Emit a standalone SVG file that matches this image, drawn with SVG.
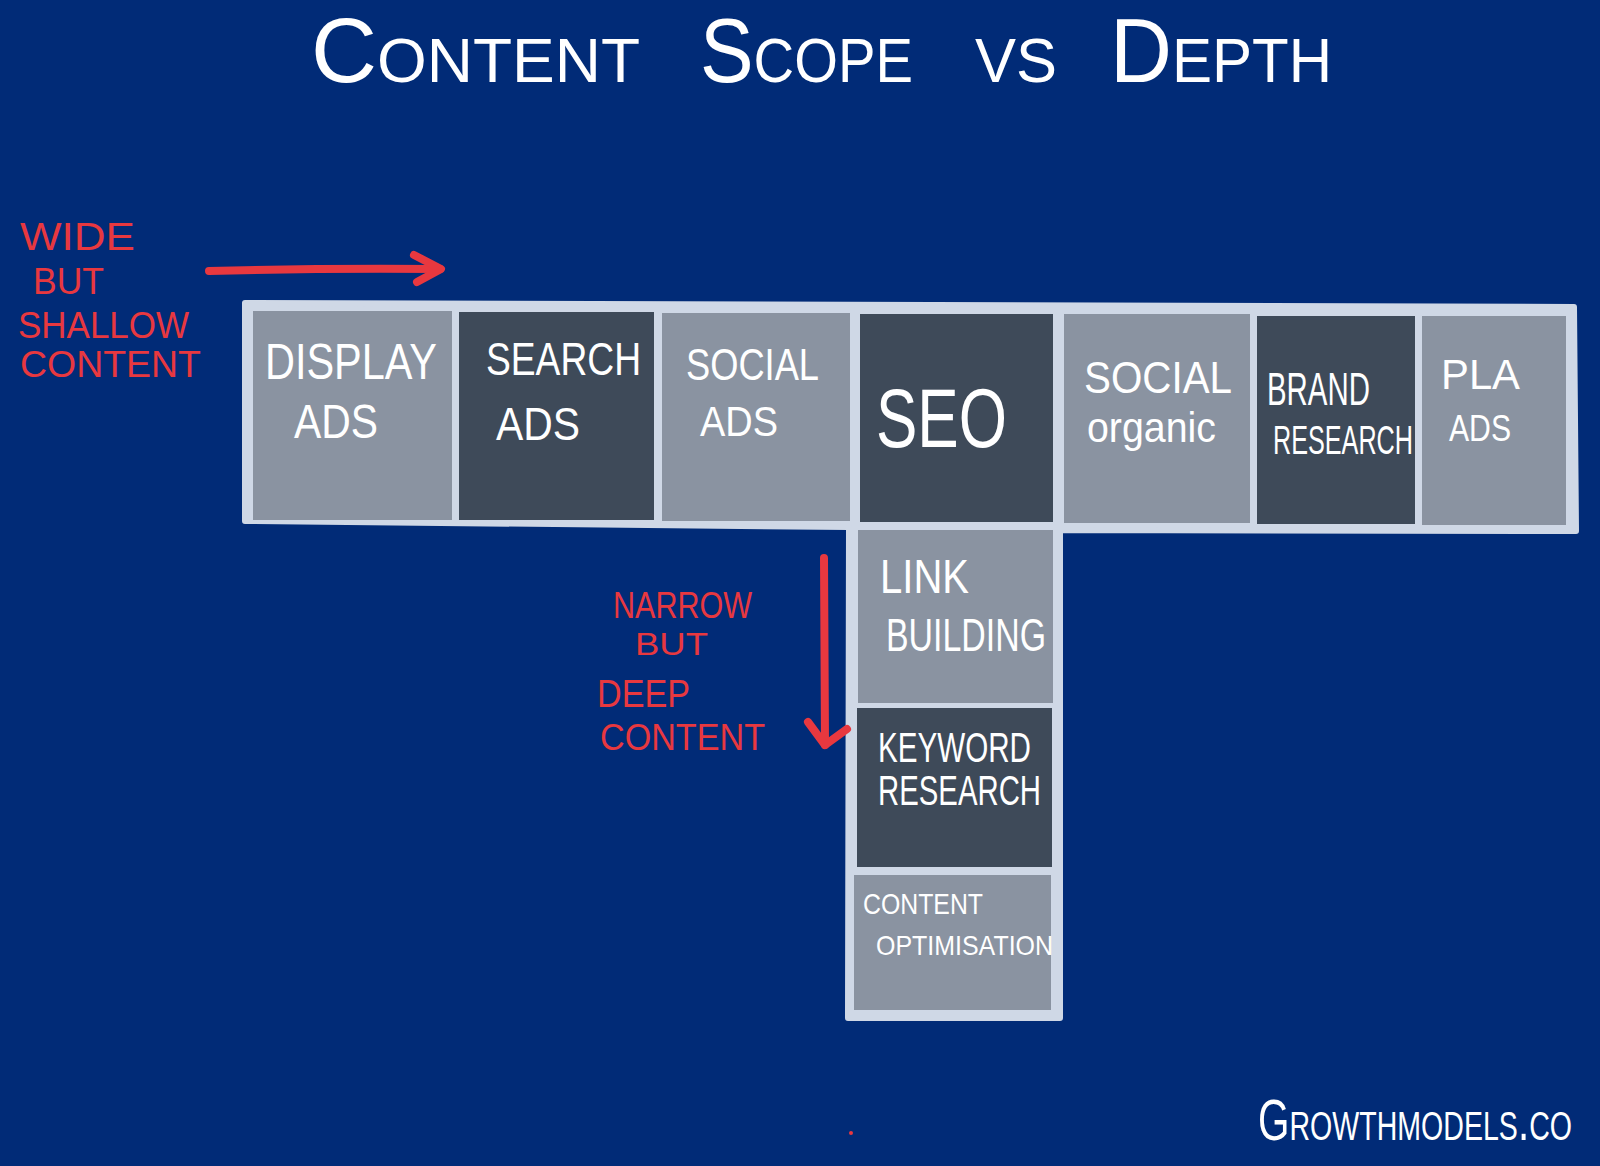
<svg xmlns="http://www.w3.org/2000/svg" width="1600" height="1166" viewBox="0 0 1600 1166">
<style>
.hand{font-family:"Liberation Sans","DejaVu Sans",sans-serif;fill:#ffffff}
.red{font-family:"Liberation Sans","DejaVu Sans",sans-serif;fill:#e8383f}
.light{fill:#8a93a1}
.dark{fill:#3e4a59}
.frame{fill:#cfd8e6;stroke:#cfd8e6;stroke-width:6;stroke-linejoin:round}
.arrow{fill:none;stroke:#e8383f;stroke-width:8;stroke-linecap:round;stroke-linejoin:round}
</style>
<rect x="0" y="0" width="1600" height="1166" fill="#012b77"/>
<g id="title">
<text class="hand" y="82" font-size="90" style="font-variant:small-caps">
<tspan x="311" textLength="329" lengthAdjust="spacingAndGlyphs">Content</tspan>
<tspan x="700" textLength="213" lengthAdjust="spacingAndGlyphs">Scope</tspan>
<tspan x="975" textLength="82" lengthAdjust="spacingAndGlyphs">vs</tspan>
<tspan x="1110" textLength="222" lengthAdjust="spacingAndGlyphs">Depth</tspan>
</text>
</g>
<g id="frame">
<polygon class="frame" points="245,303 1574,307 1576,531 1060,530 1060,1018 848,1018 849,527 245,521"/>
</g>
<g id="display-ads">
<rect class="light" x="253" y="311" width="199" height="209"/>
<text class="hand" x="265" y="379" font-size="50" textLength="172" lengthAdjust="spacingAndGlyphs">DISPLAY</text>
<text class="hand" x="294" y="438" font-size="48" textLength="84" lengthAdjust="spacingAndGlyphs">ADS</text>
</g>
<g id="search-ads">
<rect class="dark" x="459" y="312" width="195" height="208"/>
<text class="hand" x="486" y="375" font-size="46" textLength="155" lengthAdjust="spacingAndGlyphs">SEARCH</text>
<text class="hand" x="496" y="440" font-size="46" textLength="84" lengthAdjust="spacingAndGlyphs">ADS</text>
</g>
<g id="social-ads">
<rect class="light" x="662" y="313" width="188" height="208"/>
<text class="hand" x="686" y="380" font-size="44" textLength="133" lengthAdjust="spacingAndGlyphs">SOCIAL</text>
<text class="hand" x="700" y="436" font-size="42" textLength="78" lengthAdjust="spacingAndGlyphs">ADS</text>
</g>
<g id="seo">
<rect class="dark" x="860" y="314" width="193" height="208"/>
<text class="hand" x="876" y="447" font-size="84" textLength="131" lengthAdjust="spacingAndGlyphs">SEO</text>
</g>
<g id="social-organic">
<rect class="light" x="1064" y="314" width="186" height="209"/>
<text class="hand" x="1084" y="393" font-size="44" textLength="148" lengthAdjust="spacingAndGlyphs">SOCIAL</text>
<text class="hand" x="1087" y="442" font-size="42" textLength="129" lengthAdjust="spacingAndGlyphs">organic</text>
</g>
<g id="brand-research">
<rect class="dark" x="1257" y="316" width="158" height="208"/>
<text class="hand" x="1267" y="405" font-size="46" textLength="103" lengthAdjust="spacingAndGlyphs">BRAND</text>
<text class="hand" transform="translate(1273,454) scale(1,1.55)" x="0" y="0" font-size="26" textLength="140" lengthAdjust="spacingAndGlyphs">RESEARCH</text>
</g>
<g id="pla-ads">
<rect class="light" x="1422" y="316" width="144" height="209"/>
<text class="hand" x="1441" y="389" font-size="42" textLength="79" lengthAdjust="spacingAndGlyphs">PLA</text>
<text class="hand" x="1449" y="441" font-size="36" textLength="62" lengthAdjust="spacingAndGlyphs">ADS</text>
</g>
<g id="link-building">
<rect class="light" x="858" y="530" width="195" height="173"/>
<text class="hand" x="880" y="593" font-size="48" textLength="89" lengthAdjust="spacingAndGlyphs">LINK</text>
<text class="hand" x="886" y="651" font-size="46" textLength="160" lengthAdjust="spacingAndGlyphs">BUILDING</text>
</g>
<g id="keyword-research">
<rect class="dark" x="857" y="708" width="195" height="159"/>
<text class="hand" x="878" y="762" font-size="42" textLength="153" lengthAdjust="spacingAndGlyphs">KEYWORD</text>
<text class="hand" x="878" y="805" font-size="42" textLength="163" lengthAdjust="spacingAndGlyphs">RESEARCH</text>
</g>
<g id="content-optimisation">
<rect class="light" x="854" y="875" width="197" height="135"/>
<text class="hand" x="863" y="914" font-size="30" textLength="120" lengthAdjust="spacingAndGlyphs">CONTENT</text>
<text class="hand" x="876" y="955" font-size="28" textLength="177" lengthAdjust="spacingAndGlyphs">OPTIMISATION</text>
</g>
<g id="wide-label">
<text class="red" x="20" y="250" font-size="38" textLength="115" lengthAdjust="spacingAndGlyphs">WIDE</text>
<text class="red" x="33" y="294" font-size="36" textLength="71" lengthAdjust="spacingAndGlyphs">BUT</text>
<text class="red" x="18" y="338" font-size="36" textLength="171" lengthAdjust="spacingAndGlyphs">SHALLOW</text>
<text class="red" x="20" y="377" font-size="36" textLength="181" lengthAdjust="spacingAndGlyphs">CONTENT</text>
</g>
<g id="narrow-label">
<text class="red" x="613" y="618" font-size="36" textLength="139" lengthAdjust="spacingAndGlyphs">NARROW</text>
<text class="red" x="635" y="655" font-size="32" textLength="73" lengthAdjust="spacingAndGlyphs">BUT</text>
<text class="red" x="597" y="707" font-size="38" textLength="93" lengthAdjust="spacingAndGlyphs">DEEP</text>
<text class="red" x="600" y="750" font-size="36" textLength="165" lengthAdjust="spacingAndGlyphs">CONTENT</text>
</g>
<g id="connectors">
<path class="arrow" d="M209,271 Q320,268 440,269"/>
<path class="arrow" d="M414,255 L441,269 L417,282"/>
<path class="arrow" d="M824,558 L825,745"/>
<path class="arrow" d="M808,722 L825,745 L847,729"/>
</g>
<g id="footer">
<text class="hand" transform="translate(1258,1140) scale(1,1.3)" x="0" y="0" font-size="44" textLength="314" lengthAdjust="spacingAndGlyphs" style="font-variant:small-caps">Growthmodels.co</text>
</g>
<circle cx="851" cy="1133" r="2" fill="#e8383f"/>
</svg>
